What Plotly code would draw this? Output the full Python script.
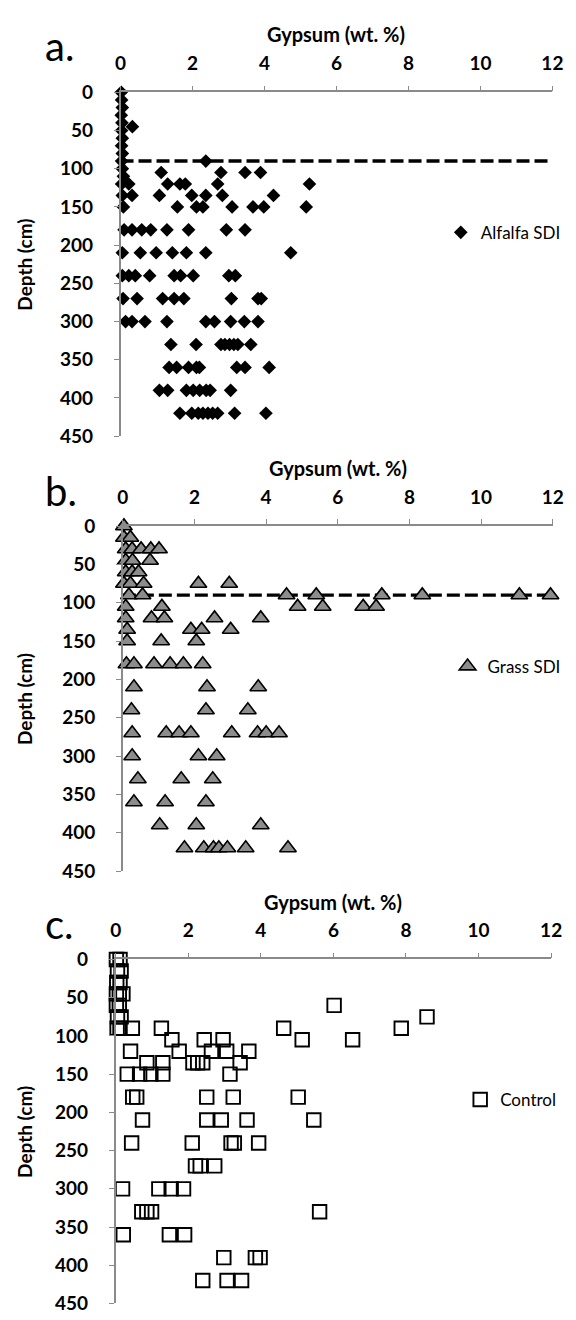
import plotly.graph_objects as go

# Gypsum content (wt. %) against sampling depth (cm) for three treatments
alfalfa_gypsum = [0.02, 0.03, 0.05, 0.02, 0.04, 0.33, 0.03, 0.05, 0.03, 0.05, 0.03, 0.05, 0.08, 0.03, 0.23, 0.05, 0.32, 0.08,
                  2.37,
                  1.13, 2.79, 3.46, 3.89,
                  1.31, 1.65, 1.80, 2.70, 5.25,
                  1.08, 1.98, 2.37, 2.83, 4.25,
                  1.58, 2.11, 2.29, 3.10, 3.68, 3.98, 5.16,
                  0.10, 0.32, 0.59, 0.84, 1.29, 1.89, 2.94, 3.46,
                  0.05, 0.55, 0.99, 1.44, 1.83, 2.37, 4.73,
                  0.05, 0.23, 0.41, 0.81, 1.49, 1.67, 2.02, 3.01, 3.19,
                  0.07, 0.46, 1.17, 1.49, 1.76, 3.08, 3.82, 3.91,
                  0.14, 0.32, 0.68, 1.29, 2.37, 2.61, 3.06, 3.44, 3.82,
                  1.40, 2.10, 2.79, 2.90, 3.03, 3.15, 3.26, 3.62,
                  1.35, 1.56, 1.89, 2.11, 2.19, 3.23, 3.46, 4.13,
                  1.08, 1.31, 1.83, 2.02, 2.20, 2.38, 2.49, 3.06,
                  1.65, 1.98, 2.16, 2.29, 2.43, 2.56, 2.70, 3.17, 4.04]
alfalfa_depth = [0, 10, 20, 30, 40, 45, 50, 60, 70, 80, 90, 100, 110, 120, 120, 135, 135, 150,
                 90,
                 105, 105, 105, 105,
                 120, 120, 120, 120, 120,
                 135, 135, 135, 135, 135,
                 150, 150, 150, 150, 150, 150, 150,
                 180, 180, 180, 180, 180, 180, 180, 180,
                 210, 210, 210, 210, 210, 210, 210,
                 240, 240, 240, 240, 240, 240, 240, 240, 240,
                 270, 270, 270, 270, 270, 270, 270, 270,
                 300, 300, 300, 300, 300, 300, 300, 300, 300,
                 330, 330, 330, 330, 330, 330, 330, 330,
                 360, 360, 360, 360, 360, 360, 360, 360,
                 390, 390, 390, 390, 390, 390, 390, 390,
                 420, 420, 420, 420, 420, 420, 420, 420, 420]

grass_gypsum = [0.03, 0.03, 0.21, 0.08, 0.26, 0.51, 0.78, 1.01, 0.08, 0.27, 0.76, 0.08, 0.26, 0.44,
                0.03, 0.21, 0.58, 2.11, 2.97,
                0.17, 0.55, 4.57, 5.40, 7.23, 8.36, 11.07, 11.94,
                0.08, 1.09, 4.88, 5.58, 6.71, 7.07,
                0.08, 0.80, 1.16, 2.56, 3.85,
                0.12, 1.90, 2.20, 3.01,
                0.12, 1.07, 2.05,
                0.10, 0.31, 0.87, 1.32, 1.69, 2.23,
                0.31, 2.35, 3.78,
                0.24, 2.32, 3.49,
                0.26, 1.21, 1.57, 1.90, 3.04, 3.76, 4.00, 4.36,
                0.26, 2.11, 2.62,
                0.42, 1.63, 2.51,
                0.31, 1.18, 2.32,
                1.03, 2.05, 3.85,
                1.72, 2.26, 2.53, 2.68, 2.92, 3.43, 4.61]
grass_depth = [0, 15, 15, 30, 30, 30, 30, 30, 45, 45, 45, 60, 60, 60,
               75, 75, 75, 75, 75,
               90, 90, 90, 90, 90, 90, 90, 90,
               105, 105, 105, 105, 105, 105,
               120, 120, 120, 120, 120,
               135, 135, 135, 135,
               150, 150, 150,
               180, 180, 180, 180, 180, 180,
               210, 210, 210,
               240, 240, 240,
               270, 270, 270, 270, 270, 270, 270, 270,
               300, 300, 300,
               330, 330, 330,
               360, 360, 360,
               390, 390, 390,
               420, 420, 420, 420, 420, 420, 420]

control_gypsum = [0.02, 0.12, 0.05, 0.15, 0.03, 0.12, 0.02, 0.10, 0.20, 0.02, 0.10, 0.05, 0.15, 0.04, 0.12,
                  6.02, 8.58,
                  0.46, 1.26, 4.63, 7.87,
                  1.55, 2.44, 2.96, 5.14, 6.53,
                  0.41, 1.75, 2.64, 3.06, 3.67,
                  0.86, 1.30, 2.13, 2.26, 2.40, 3.43,
                  0.32, 0.66, 0.97, 1.30, 3.15,
                  0.47, 0.58, 2.51, 3.24, 5.03,
                  0.74, 2.51, 2.91, 3.62, 5.46,
                  0.44, 2.11, 3.18, 3.27, 3.94,
                  2.20, 2.33, 2.73,
                  0.19, 1.19, 1.53, 1.87,
                  0.72, 0.86, 0.99, 5.62,
                  0.21, 1.48, 1.90,
                  2.98, 3.85, 3.98,
                  2.40, 3.07, 3.47]
control_depth = [0, 0, 15, 15, 30, 30, 45, 45, 45, 60, 60, 75, 75, 90, 90,
                 60, 75,
                 90, 90, 90, 90,
                 105, 105, 105, 105, 105,
                 120, 120, 120, 120, 120,
                 135, 135, 135, 135, 135, 135,
                 150, 150, 150, 150, 150,
                 180, 180, 180, 180, 180,
                 210, 210, 210, 210, 210,
                 240, 240, 240, 240, 240,
                 270, 270, 270,
                 300, 300, 300, 300,
                 330, 330, 330, 330,
                 360, 360, 360,
                 390, 390, 390,
                 420, 420, 420]

# Horizontal reference line at 90 cm across the full gypsum range
ref_depth = [90, 90]
ref_gypsum = [0, 12]

panel_letters = ["a.", "b.", "c."]
series_names = ["Alfalfa SDI", "Grass SDI", "Control"]
x_ticks = [0, 2, 4, 6, 8, 10, 12]
y_ticks = [0, 50, 100, 150, 200, 250, 300, 350, 400, 450]

W, H = 576, 1320
FONT = "Lato"
AXIS_GREY = "#8a8a8a"

# pixel boxes of the three plotting areas: (left, right, top, bottom)
boxes = [(118, 563, 81.7, 431.7), (120.4, 563.3, 523.3, 874.3), (113, 561.7, 964.3, 1314.4)]
# vertical centre of the panel letter and left edge of the legend text, in px
letter_y = [35, 488, 928]
legend_text_x = [488, 495, 508]

fig = go.Figure()

marker_styles = [
    dict(symbol="diamond", size=10.5, color="black", line=dict(width=0)),
    dict(symbol="triangle-up", size=14.5, color="#8c8c8c", line=dict(width=1.6, color="black")),
    dict(symbol="square-open", size=13.5, color="black", line=dict(width=1.9, color="black")),
]
series = [(alfalfa_gypsum, alfalfa_depth), (grass_gypsum, grass_depth), (control_gypsum, control_depth)]
legend_ids = ["legend", "legend2", "legend3"]

for i in range(3):
    suffix = "" if i == 0 else str(i + 1)
    xa, ya = "x" + suffix, "y" + suffix
    if i < 2:
        fig.add_trace(go.Scatter(x=ref_gypsum, y=ref_depth, mode="lines",
                                 line=dict(color="black", width=3.4, dash="13px,5px"),
                                 showlegend=False, xaxis=xa, yaxis=ya, cliponaxis=False,
                                 hoverinfo="skip"))
    gx, gy = series[i]
    fig.add_trace(go.Scatter(x=gx, y=gy, mode="markers", name=series_names[i],
                             marker=marker_styles[i], xaxis=xa, yaxis=ya,
                             cliponaxis=False, legend=legend_ids[i]))

layout = dict(width=W, height=H, margin=dict(l=0, r=0, t=0, b=0),
              paper_bgcolor="white", plot_bgcolor="white", showlegend=True,
              font=dict(family=FONT, color="black"))

tick_font = dict(family=FONT, size=19, color="black", weight="bold")
annotations = []
for i, (l, r, t, b) in enumerate(boxes):
    suffix = "" if i == 0 else str(i + 1)
    xd = [l / W, r / W]
    yd = [1 - b / H, 1 - t / H]
    layout["xaxis" + suffix] = dict(
        domain=xd, range=[0, 12], side="top", anchor="y" + suffix,
        tickmode="array", tickvals=x_ticks, ticks="outside", ticklen=5, tickwidth=1.3,
        tickcolor=AXIS_GREY, showline=True, linecolor=AXIS_GREY, linewidth=1.5,
        showgrid=False, zeroline=False, ticklabelstandoff=8, tickfont=tick_font)
    layout["yaxis" + suffix] = dict(
        domain=yd, range=[450, 0], anchor="x" + suffix,
        tickmode="array", tickvals=y_ticks, ticks="outside", ticklen=5, tickwidth=1.3,
        tickcolor=AXIS_GREY, showline=True, linecolor=AXIS_GREY, linewidth=1.5,
        showgrid=False, zeroline=False, ticklabelstandoff=17, tickfont=tick_font)
    cx = (l + r) / 2
    annotations.append(dict(text="Gypsum (wt. %)", xref="paper", yref="paper",
                            x=cx / W, y=1 - (t - 59) / H, xanchor="center", yanchor="middle",
                            showarrow=False,
                            font=dict(family=FONT, size=20, color="black", weight="bold")))
    annotations.append(dict(text="Depth (cm)", xref="paper", yref="paper", textangle=-90,
                            x=19 / W, y=1 - ((t + b) / 2) / H, xanchor="center", yanchor="middle",
                            showarrow=False,
                            font=dict(family=FONT, size=19, color="black", weight="bold")))
    annotations.append(dict(text=panel_letters[i], xref="paper", yref="paper",
                            x=38 / W, y=1 - letter_y[i] / H, xanchor="left", yanchor="middle",
                            showarrow=False,
                            font=dict(family=FONT, size=40, color="black")))
    layout[legend_ids[i]] = dict(x=(legend_text_x[i] - 40) / W, y=1 - (t + 143) / H,
                                 xanchor="left", yanchor="middle",
                                 bgcolor="rgba(0,0,0,0)", borderwidth=0,
                                 font=dict(family=FONT, size=17, color="black"),
                                 itemclick=False, itemdoubleclick=False)

layout["annotations"] = annotations
fig.update_layout(**layout)
fig.write_html("out.html")
